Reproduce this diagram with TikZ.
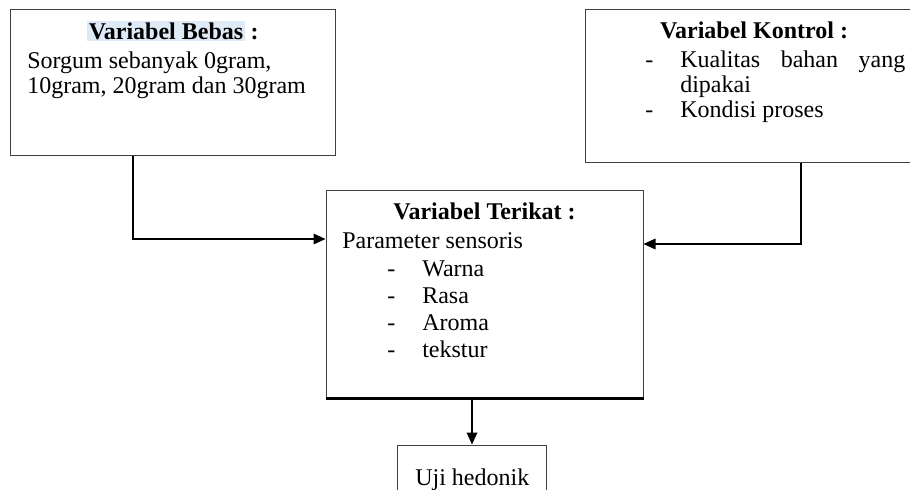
\documentclass[tikz,border=0pt]{standalone}
\usepackage{fontspec}
\setmainfont{Liberation Serif}
\usetikzlibrary{fit,arrows.meta}
\definecolor{hlblue}{HTML}{DEEAF6}
\begin{document}
\begin{tikzpicture}[x=0.75pt,y=-0.75pt,
  box/.style={draw=black!75, line width=0.75pt, inner sep=0pt},
  txt/.style={inner sep=0pt, anchor=base west, font=\fontsize{18}{19}\selectfont},
  ttl/.style={inner sep=0pt, anchor=base, font=\fontsize{18}{19}\selectfont\bfseries},
  conn/.style={draw=black, line width=0.9pt, -{Triangle[length=9pt,width=8pt]}}]
\clip (0,0) rectangle (910,489);
\fill[white] (0,0) rectangle (910,489);
\setlength{\fboxsep}{1pt}
% boxes
\node[box, fit={(10,9) (335,155)}] (lb) {};
\node[box, fit={(585,9) (930,162)}] (rb) {};
\node[box, fit={(326,190) (643,398)}] (mb) {};
\draw[line width=1.6pt] (mb.south west) -- (mb.south east);
\node[box, fit={(397,445) (546,510)}] (bb) {};
% left box text
\node[ttl] (lbt) at (173,39) {\colorbox{hlblue}{Variabel Bebas} :};
\node[txt] (lb1) at (27,68) {Sorgum sebanyak 0gram,};
\node[txt] (lb2) at (27,93) {10gram, 20gram dan 30gram};
% right box text
\node[ttl] (rbt) at (754,38) {Variabel Kontrol :};
\node[txt] (rd1) at (645,67) {-};
\node[txt] (rl1) at (680,67) {\makebox[168.75pt][s]{Kualitas bahan yang}};
\node[txt] (rl2) at (680,92) {dipakai};
\node[txt] (rd2) at (645,117) {-};
\node[txt] (rl3) at (680,117) {Kondisi proses};
% middle box text
\node[ttl] (mbt) at (484.5,219) {Variabel Terikat :};
\node[txt] (m0) at (342,248) {Parameter sensoris};
\node[txt] (md1) at (387,276) {-};
\node[txt] (m1) at (422,276) {Warna};
\node[txt] (md2) at (387,303) {-};
\node[txt] (m2) at (422,303) {Rasa};
\node[txt] (md3) at (387,330) {-};
\node[txt] (m3) at (422,330) {Aroma};
\node[txt] (md4) at (387,357) {-};
\node[txt] (m4) at (422,357) {tekstur};
% bottom box text
\node[txt] (bbt) at (415,485) {Uji hedonik};
% connectors
\coordinate (lc) at (133,239);
\coordinate (rc) at (801,244);
\coordinate (dc) at (472,0);
\draw[conn] (lc |- lb.south) -- (lc) -- (lc -| mb.west);
\draw[conn] (rc |- rb.south) -- (rc) -- (rc -| mb.east);
\draw[conn] (dc |- mb.south) -- (dc |- bb.north);
\end{tikzpicture}
\end{document}
